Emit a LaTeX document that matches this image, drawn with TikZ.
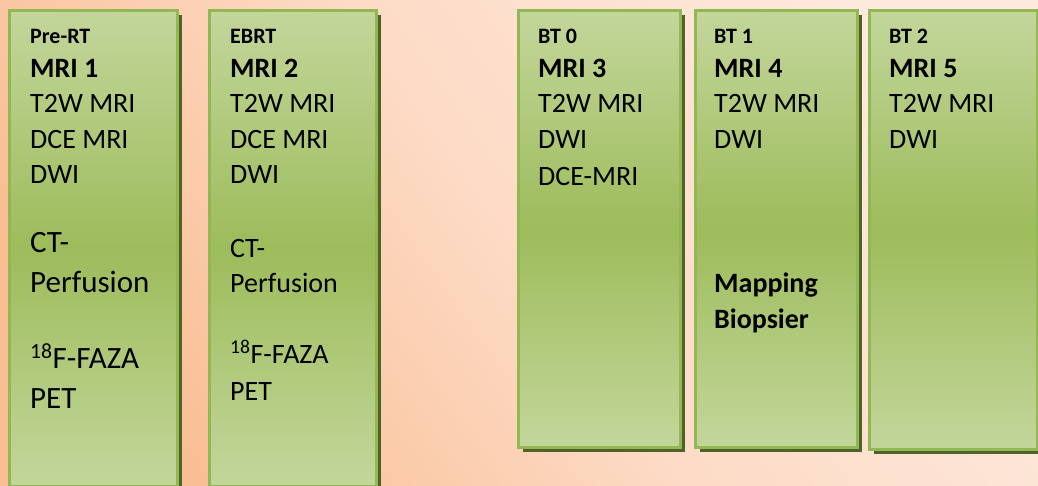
\documentclass[tikz,border=0pt]{standalone}
\usepackage{fontspec}
\setmainfont{Carlito}
\usetikzlibrary{shadows}
\definecolor{peach}{HTML}{F9BE93}
\definecolor{salmon}{HTML}{FDDBC6}
\definecolor{cream}{HTML}{FDE9DD}
\definecolor{boxlight}{HTML}{C3D69B}
\definecolor{boxdark}{HTML}{9DBC5B}
\definecolor{boxedge}{HTML}{93B753}
\definecolor{boxshadow}{HTML}{4F6228}
\tikzset{
  stage/.style={
    rectangle, draw=boxedge, line width=2.5pt,
    top color=boxlight, bottom color=boxlight, middle color=boxdark,
    drop shadow={shadow xshift=5pt, shadow yshift=-5pt, fill=boxshadow, opacity=1},
    anchor=north west, inner sep=0pt
  },
  phase/.style={anchor=base west, inner sep=0pt, font=\fontsize{22}{26}\selectfont\bfseries},
  scan/.style={anchor=base west, inner sep=0pt, font=\fontsize{28}{34}\selectfont\bfseries},
  item/.style={anchor=base west, inner sep=0pt, font=\fontsize{28}{34}\selectfont},
  bigitem/.style={item, font=\fontsize{31}{38}\selectfont}
}

\begin{document}
\begin{tikzpicture}[x=1pt, y=-1pt]
  \useasboundingbox (0,0) rectangle (1038,485);
  \shade[top color=peach, bottom color=cream, middle color=salmon, shading angle=125]
    (0,0) rectangle (1038,485);

  % the five scan sessions
  \foreach \name/\x/\w/\h in {pre/8/168/476, ebrt/208/167/476, bt0/517/162/437,
                              bt1/694/162/437, bt2/868/168/439}
    \node[stage, minimum width=\w pt, minimum height=\h pt] (\name) at (\x,9) {};

  % headings
  \foreach \name/\ph/\mri/\x in {pre/Pre-RT/MRI 1/30, ebrt/EBRT/MRI 2/230, bt0/BT 0/MRI 3/538,
                                 bt1/BT 1/MRI 4/714, bt2/BT 2/MRI 5/889} {
    \node[phase] (\name-phase) at (\x,43) {\ph};
    \node[scan] (\name-scan) at (\x,77) {\mri};
    \node[item] (\name-t2w) at (\x,112) {T2W MRI};
  }

  % Pre-RT
  \node[item] (pre-dce) at (30,148) {DCE MRI};
  \node[item] (pre-dwi) at (30,183) {DWI};
  \node[bigitem] (pre-ct) at (30,252) {CT-};
  \node[bigitem] (pre-perf) at (30,292) {Perfusion};
  \node[bigitem] (pre-faza) at (30,368) {\textsuperscript{18}F-FAZA};
  \node[bigitem] (pre-pet) at (30,408) {PET};

  % EBRT
  \node[item] (ebrt-dce) at (230,148) {DCE MRI};
  \node[item] (ebrt-dwi) at (230,183) {DWI};
  \node[item] (ebrt-ct) at (230,257) {CT-};
  \node[item] (ebrt-perf) at (230,292) {Perfusion};
  \node[item] (ebrt-faza) at (230,363) {\textsuperscript{18}F-FAZA};
  \node[item] (ebrt-pet) at (230,400) {PET};

  % brachy sessions
  \node[item] (bt0-dwi) at (538,148) {DWI};
  \node[item] (bt0-dce) at (538,185) {DCE-MRI};
  \node[item] (bt1-dwi) at (714,148) {DWI};
  \node[scan] (bt1-map) at (714,292) {Mapping};
  \node[scan] (bt1-bio) at (714,328) {Biopsier};
  \node[item] (bt2-dwi) at (889,148) {DWI};
\end{tikzpicture}
\end{document}
